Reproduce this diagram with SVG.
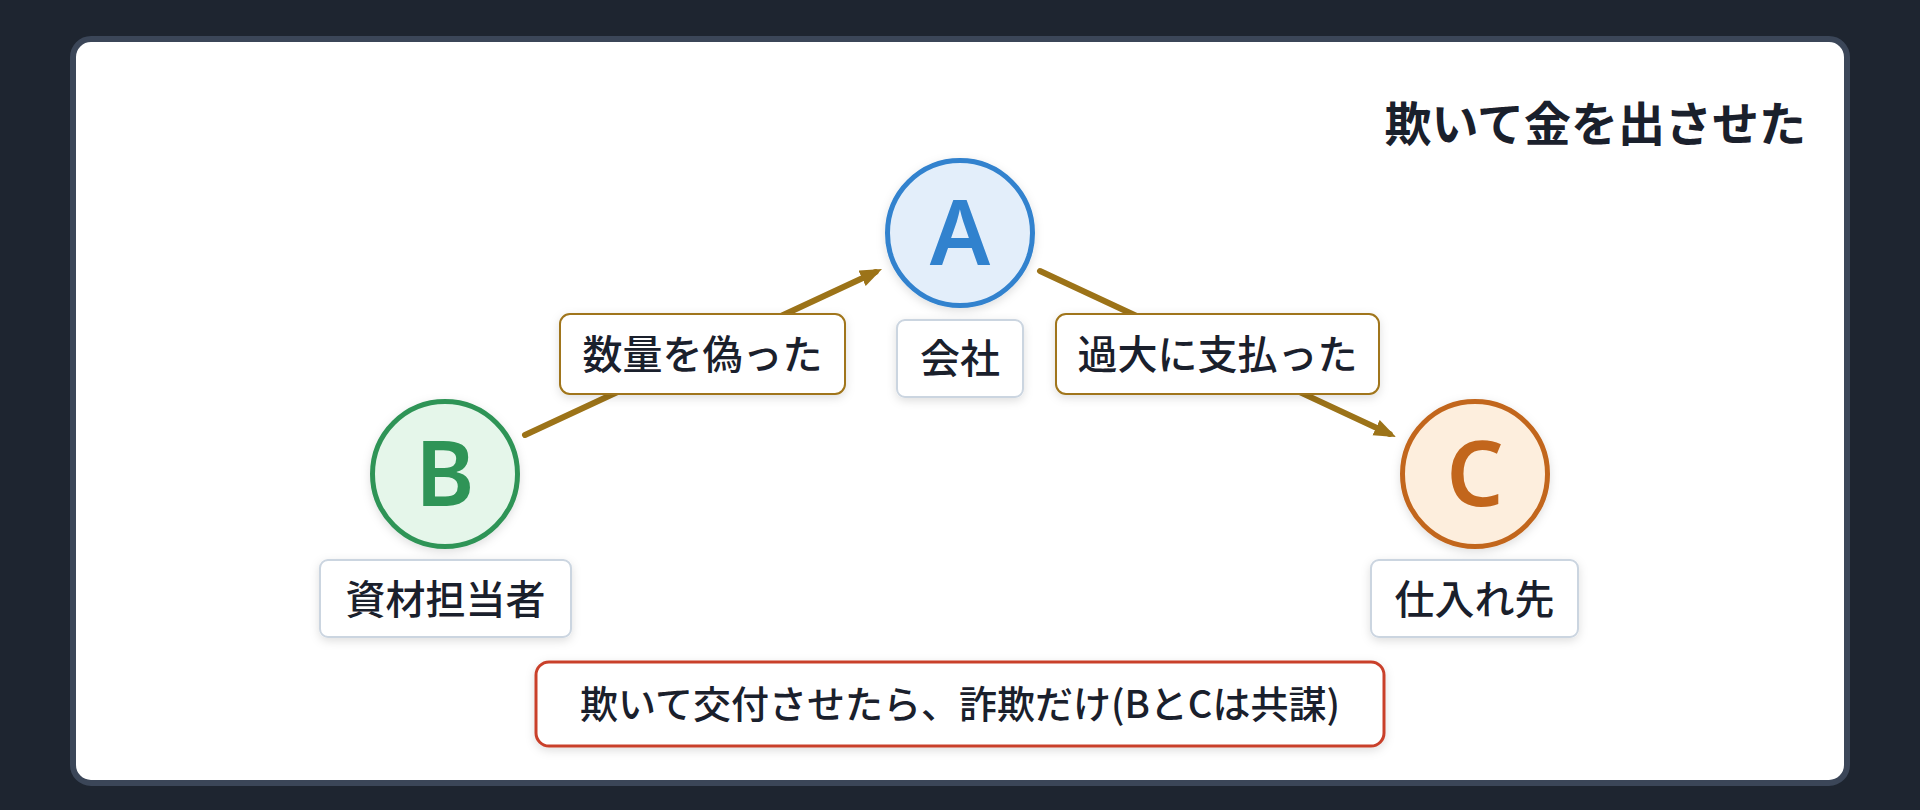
<svg xmlns="http://www.w3.org/2000/svg" width="1920" height="810" viewBox="0 0 1920 810">
<defs>
<style>
.t{font-family:"Noto Sans CJK JP","Noto Sans",sans-serif;font-weight:500;fill:#1a202c;text-anchor:middle}
.lbl{fill:#fff;stroke:#cbd5e0;stroke-width:2}
.elbl{fill:#fff;stroke:#a0751a;stroke-width:2}
.edge{fill:none;stroke:#9c7318;stroke-width:6;stroke-linecap:round}
.letter{font-family:"Noto Sans","Liberation Sans",sans-serif;font-weight:600;font-size:90px;text-anchor:middle}
</style>
<filter id="sh" x="-20%" y="-20%" width="140%" height="160%">
<feDropShadow dx="0" dy="3" stdDeviation="5" flood-color="#000" flood-opacity="0.13"/>
</filter>
<marker id="ah" markerUnits="userSpaceOnUse" markerWidth="24" markerHeight="20" refX="15" refY="8.5" orient="auto">
<path d="M0,0 L22,8.5 L0,17 z" fill="#9c7318"/>
</marker>
</defs>
<rect x="0" y="0" width="1920" height="810" fill="#1e2530"/>
<rect x="73" y="39" width="1774" height="744" rx="18" fill="#ffffff" stroke="#3b4658" stroke-width="6"/>
<text id="title" class="t" x="1806" y="141" font-size="47" style="text-anchor:end;font-weight:600">欺いて金を出させた</text>
<g id="connectors">
<path class="edge" d="M525,435 L875.7,272" marker-end="url(#ah)"/>
<path class="edge" d="M1040,271 L1389.7,434" marker-end="url(#ah)"/>
<g id="edge-BA-label">
<rect class="elbl" x="560" y="314" width="285" height="80" rx="10" filter="url(#sh)"/>
<text class="t" x="702.5" y="369" font-size="40">数量を偽った</text>
</g>
<g id="edge-AC-label">
<rect class="elbl" x="1056" y="314" width="323" height="80" rx="10" filter="url(#sh)"/>
<text class="t" x="1217.5" y="369" font-size="40">過大に支払った</text>
</g>
</g>
<g id="nodeA">
<circle cx="960" cy="233" r="72.5" fill="#e3eefa" stroke="#3182ce" stroke-width="5" filter="url(#sh)"/>
<text class="letter" x="960" y="265" fill="#3182ce">A</text>
<rect class="lbl" x="897" y="320" width="126" height="77" rx="8" filter="url(#sh)"/>
<text class="t" x="960" y="373" font-size="40">会社</text>
</g>
<g id="nodeB">
<circle cx="445" cy="474" r="72.5" fill="#e5f6ea" stroke="#2f9457" stroke-width="5" filter="url(#sh)"/>
<text class="letter" x="445" y="506" fill="#2f9457">B</text>
<rect class="lbl" x="320" y="560" width="251" height="77" rx="8" filter="url(#sh)"/>
<text class="t" x="445.5" y="614" font-size="40">資材担当者</text>
</g>
<g id="nodeC">
<circle cx="1475" cy="474" r="72.5" fill="#fdeedd" stroke="#c2661c" stroke-width="5" filter="url(#sh)"/>
<text class="letter" x="1475" y="506" fill="#c2661c">C</text>
<rect class="lbl" x="1371" y="560" width="207" height="77" rx="8" filter="url(#sh)"/>
<text class="t" x="1474.5" y="614" font-size="40">仕入れ先</text>
</g>
<g id="note">
<rect x="536" y="662" width="848" height="84" rx="13" fill="#fff" stroke="#c9402b" stroke-width="3" filter="url(#sh)"/>
<text class="t" x="960" y="718" font-size="38">欺いて交付させたら、詐欺だけ(BとCは共謀)</text>
</g>
</svg>
